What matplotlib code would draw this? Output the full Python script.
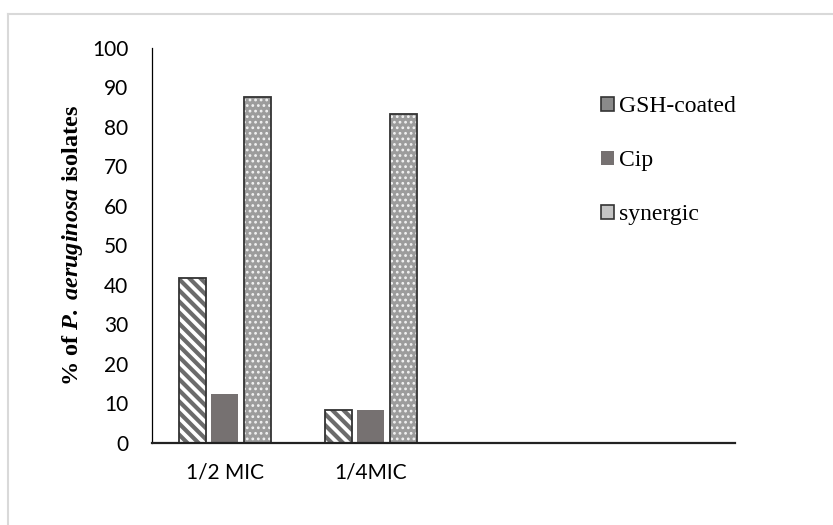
import numpy as np
import matplotlib
matplotlib.use('Agg')
import matplotlib.pyplot as plt
from matplotlib.patches import Patch
from matplotlib.lines import Line2D

categories = ['1/2 MIC', '1/4MIC', '', '']
series = ['GSH-coated', 'Cip', 'synergic']
gsh = [41.67, 8.33]
cip = [12.5, 8.33]
syn = [87.5, 83.33]
yticks = [0, 10, 20, 30, 40, 50, 60, 70, 80, 90, 100]

plt.rcParams['mathtext.fontset'] = 'custom'
plt.rcParams['mathtext.rm'] = 'Liberation Serif:bold'
plt.rcParams['mathtext.bfit'] = 'Liberation Serif:italic:bold'
plt.rcParams['hatch.linewidth'] = 3.0

fig = plt.figure(figsize=(8.33, 5.25), dpi=100)
ax = fig.add_axes([0.1825, 0.1562, 0.7, 0.7524])

x = np.arange(len(gsh))
w = 0.185
step = 0.222

# striped bars
ax.bar(x - step, gsh, w, color='white', edgecolor='#6b6b6b', hatch='\\\\\\', linewidth=0)
ax.bar(x - step, gsh, w, fill=False, edgecolor='#333333', linewidth=1.3)
# solid bars
ax.bar(x, cip, w, color='#767171', linewidth=0)
# dotted bars
with plt.rc_context({'hatch.linewidth': 1.2}):
    ax.bar(x + step, syn, w, color='#9c9c9c', edgecolor='#f2f2f2', hatch='...', linewidth=0)
ax.bar(x + step, syn, w, fill=False, edgecolor='#333333', linewidth=1.3)

ax.set_xlim(-0.5, 3.5)
ax.set_ylim(0, 100)
ax.set_yticks(yticks)
ax.set_xticks(range(len(categories)))
ax.set_xticklabels(categories, fontsize=15, family='Lato')
ax.set_yticklabels([str(v) for v in yticks], fontsize=15, family='Lato')
ax.tick_params(axis='y', length=0, pad=17)
ax.tick_params(axis='x', length=0, pad=14)

for s in ['top', 'right']:
    ax.spines[s].set_visible(False)
ax.spines['left'].set_color('black')
ax.spines['left'].set_linewidth(0.9)
ax.spines['bottom'].set_color('#222222')
ax.spines['bottom'].set_linewidth(1.6)

ax.set_ylabel(r'% of $\mathbfit{P.\,aeruginosa}$ isolates', family='Liberation Serif',
              fontweight='bold', fontsize=17.5, labelpad=5)

handles = [
    Patch(facecolor='#8a8a8a', edgecolor='#333333', linewidth=1.2),
    Patch(facecolor='#767171', linewidth=0),
    Patch(facecolor='#c4c4c4', edgecolor='#333333', linewidth=1.2),
]
fig.legend(handles, series, loc='upper left', bbox_to_anchor=(0.7215, 1 - 96 / 525),
           frameon=False, prop={'family': 'Liberation Serif', 'size': 17},
           handlelength=0.55, handleheight=0.55, handletextpad=0.2, labelspacing=1.4,
           borderpad=0, borderaxespad=0)

# light border around the chart area
fig.add_artist(Line2D([8 / 833, 1], [1 - 14 / 525, 1 - 14 / 525], color='#d9d9d9', lw=1.5))
fig.add_artist(Line2D([8 / 833, 8 / 833], [0, 1 - 14 / 525], color='#d9d9d9', lw=1.5))

fig.savefig('out.png', dpi=100)
